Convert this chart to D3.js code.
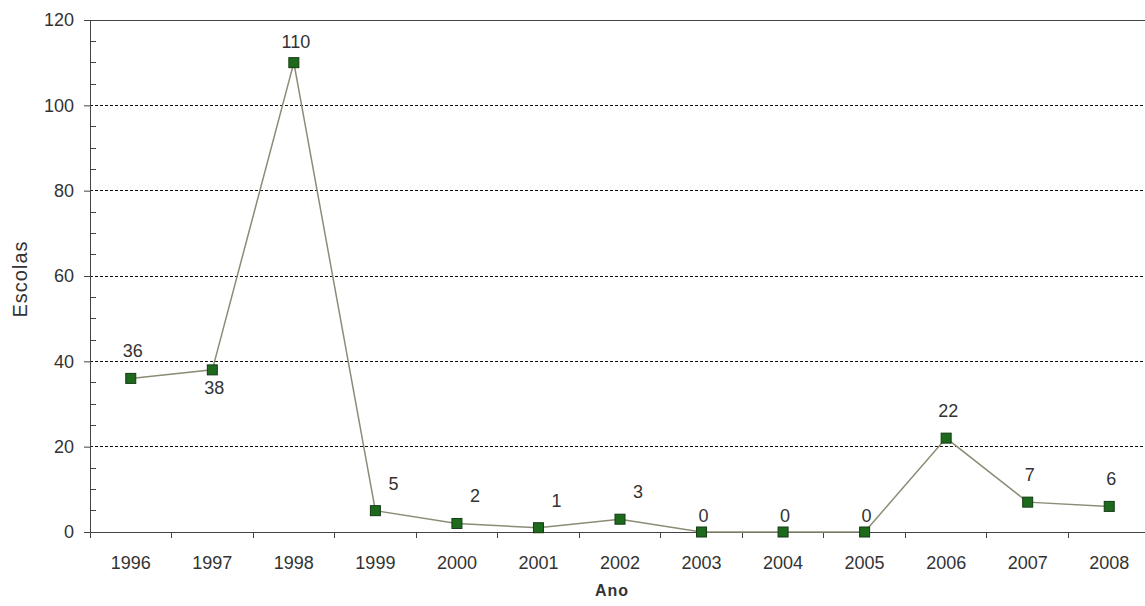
<!DOCTYPE html>
<html>
<head>
<meta charset="utf-8">
<script src="https://cdn.jsdelivr.net/npm/d3@7"></script>
<style>
  body { margin: 0; background: #fff; }
  text { font-family: "Liberation Sans", Arial, sans-serif; fill: #333; }
</style>
</head>
<body>
<div id="chart"></div>
<script>
// ---- data ----
const years = ["1996","1997","1998","1999","2000","2001","2002","2003","2004","2005","2006","2007","2008"];
const escolas = [36, 38, 110, 5, 2, 1, 3, 0, 0, 0, 22, 7, 6];
const yTicks = [0, 20, 40, 60, 80, 100, 120];
// where each value label sits relative to its point
const labelPlace = ["above","below","top","right","right","right","right","low","low","low","above","above","above"];

// ---- svg ----
const W = 1145, H = 606;
const margin = {top: 20, right: -5, bottom: 74, left: 90};
const width = W - margin.left - margin.right,
      height = H - margin.top - margin.bottom;

const svg = d3.select("#chart").append("svg")
    .attr("width", W).attr("height", H);
const g = svg.append("g")
    .attr("transform", "translate(" + margin.left + "," + margin.top + ")");

const x = d3.scaleBand().domain(years).range([0, width]);
const y = d3.scaleLinear().domain([0, 120]).range([height, 0]);

// dashed grid
g.selectAll(".grid").data(yTicks.filter(d => d > 0 && d < 120))
  .enter().append("line")
    .attr("x1", 0).attr("x2", width)
    .attr("y1", d => y(d)).attr("y2", d => y(d))
    .attr("stroke", "#111").attr("stroke-width", 1)
    .attr("stroke-dasharray", "3,2").attr("shape-rendering", "crispEdges");

// top border
g.append("line").attr("x1", 0).attr("x2", width)
  .attr("y1", y(120)).attr("y2", y(120))
  .attr("stroke", "#444").attr("shape-rendering", "crispEdges");

// minor ticks on y (inside)
g.selectAll(".minor").data(d3.range(5, 120, 5).filter(d => d % 20 !== 0))
  .enter().append("line")
    .attr("x1", 0).attr("x2", 6)
    .attr("y1", d => y(d)).attr("y2", d => y(d))
    .attr("stroke", "#444").attr("shape-rendering", "crispEdges");

// y axis
const yAxis = g.append("g")
  .call(d3.axisLeft(y).tickValues(yTicks).tickSize(6).tickPadding(10));
yAxis.select(".domain").attr("stroke", "#444");
yAxis.selectAll(".tick line").attr("stroke", "#444");
yAxis.selectAll("text").style("font-size", "18px").attr("fill", "#333");

// x axis: ticks at band boundaries
const xAxis = g.append("g").attr("transform", "translate(0," + height + ")");
xAxis.append("line").attr("x1", 0).attr("x2", width)
  .attr("stroke", "#444").attr("shape-rendering", "crispEdges");
xAxis.selectAll(".sep").data(years)
  .enter().append("line")
    .attr("x1", d => x(d)).attr("x2", d => x(d))
    .attr("y1", 0).attr("y2", 6)
    .attr("stroke", "#444").attr("shape-rendering", "crispEdges");
xAxis.selectAll(".lbl").data(years)
  .enter().append("text")
    .attr("x", d => x(d) + x.bandwidth() / 2)
    .attr("y", 37)
    .attr("text-anchor", "middle")
    .style("font-size", "18px")
    .text(d => d);

// axis titles
svg.append("text")
  .attr("transform", "translate(27,279) rotate(-90)")
  .attr("text-anchor", "middle")
  .style("font-size", "20px")
  .style("letter-spacing", "1px")
  .text("Escolas");
svg.append("text")
  .attr("x", 612).attr("y", 596)
  .attr("text-anchor", "middle")
  .style("font-size", "16px").style("font-weight", "bold")
  .style("letter-spacing", "1px")
  .attr("fill", "#111")
  .text("Ano");

// line
const pts = years.map((yr, i) => ({year: yr, v: escolas[i], place: labelPlace[i]}));
const line = d3.line()
  .x(d => x(d.year) + x.bandwidth() / 2)
  .y(d => y(d.v));
g.append("path").datum(pts)
  .attr("d", line)
  .attr("fill", "none")
  .attr("stroke", "#8c8c76")
  .attr("stroke-width", 1.5);

// markers
g.selectAll(".pt").data(pts)
  .enter().append("rect")
    .attr("x", d => x(d.year) + x.bandwidth() / 2 - 5)
    .attr("y", d => y(d.v) - 5)
    .attr("width", 10).attr("height", 10)
    .attr("fill", "#1d6a1d")
    .attr("stroke", "#143a14");

// value labels
const dyFor = {above: -21, top: -15, low: -10, right: -21, below: 24};
g.selectAll(".val").data(pts)
  .enter().append("text")
    .attr("x", d => x(d.year) + x.bandwidth() / 2 + (d.place === "right" ? 18 : 2))
    .attr("y", d => y(d.v) + dyFor[d.place])
    .attr("text-anchor", "middle")
    .style("font-size", "18px")
    .text(d => d.v);
</script>
</body>
</html>
